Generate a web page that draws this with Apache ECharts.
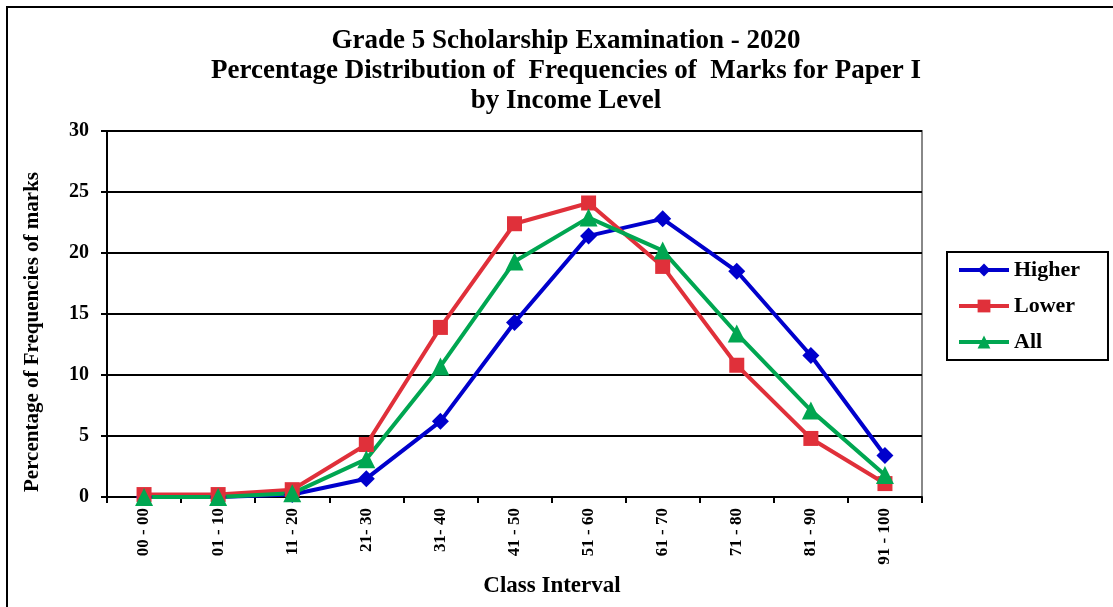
<!DOCTYPE html>
<html lang="en">
<head>
    <meta charset="UTF-8">
    <title>Grade 5 Scholarship Examination - 2020</title>
    <script src="https://cdn.jsdelivr.net/npm/echarts@6/dist/echarts.min.js"></script>
    <style type="text/css">
        html, body { margin: 0; padding: 0; background: #fff; }
        #box { width: 1113px; height: 607px; }
    </style>
</head>
<body>
    <div id="box"></div>
</body>
</html>
<script>
    // class intervals on the x axis
    var classes = ["00 - 00", "01 - 10", "11 - 20", "21- 30", "31- 40", "41 - 50",
                   "51 - 60", "61 - 70", "71 - 80", "81 - 90", "91 - 100"];
    // percentages
    var higher = [0.0, 0.0, 0.2, 1.5, 6.2, 14.3, 21.4, 22.8, 18.5, 11.6, 3.4];
    var lower  = [0.2, 0.2, 0.6, 4.3, 13.9, 22.4, 24.1, 18.9, 10.8, 4.8, 1.1];
    var all    = [0.0, 0.0, 0.3, 3.1, 10.7, 19.3, 22.9, 20.2, 13.4, 7.1, 1.8];
    var yTicks = [0, 5, 10, 15, 20, 25, 30];

    var serif = "'Liberation Serif', 'Times New Roman', serif";
    var mychart = echarts.init(document.getElementById("box"));

    function line(name, data, color, symbol, size) {
        return {
            name: name,
            type: "line",
            data: data,
            symbol: symbol,
            symbolSize: size,
            itemStyle: { color: color },
            lineStyle: { color: color, width: 4 },
            z: 3
        };
    }

    mychart.setOption({
        animation: false,
        backgroundColor: "#fff",
        title: {
            text: "Grade 5 Scholarship Examination - 2020\nPercentage Distribution of  Frequencies of  Marks for Paper I\nby Income Level",
            left: 561,
            textAlign: "center",
            top: 21,
            textStyle: {
                fontFamily: serif, fontWeight: "bold", fontSize: 27,
                lineHeight: 30, color: "#000"
            }
        },
        legend: {
            orient: "vertical",
            left: 947,
            top: 252,
            padding: [7, 28, 7, 10],
            itemGap: 14,
            itemWidth: 50,
            itemHeight: 16,
            borderColor: "#000",
            borderWidth: 2,
            lineStyle: { width: 4 },
            textStyle: { fontFamily: serif, fontWeight: "bold", fontSize: 22, color: "#000" },
            data: ["Higher", "Lower", "All"]
        },
        grid: { left: 107, right: 191, top: 131, bottom: 110 },
        xAxis: {
            type: "category",
            data: classes,
            axisLine: { lineStyle: { color: "#000", width: 2 } },
            axisTick: { show: true, length: 6, lineStyle: { color: "#000", width: 2 } },
            axisLabel: {
                rotate: 90, margin: 11,
                fontFamily: serif, fontWeight: "bold", fontSize: 17, color: "#000"
            },
            splitLine: { show: false }
        },
        yAxis: {
            type: "value",
            min: yTicks[0],
            max: yTicks[yTicks.length - 1],
            interval: 5,
            axisLine: { show: true, lineStyle: { color: "#000", width: 2 } },
            axisTick: { show: true, length: 6, lineStyle: { color: "#000", width: 2 } },
            axisLabel: { margin: 18, fontFamily: serif, fontWeight: "bold", fontSize: 20, color: "#000" },
            splitLine: { lineStyle: { color: "#000", width: 2 } }
        },
        graphic: [
            // outer chart frame (left and top edges only are visible)
            { type: "polyline", shape: { points: [[7, 620], [7, 7], [1120, 7]] }, style: { fill: null, stroke: "#000", lineWidth: 2 }, silent: true },
            // grey right and top edge of plot area
            { type: "polyline", shape: { points: [[107, 131], [922, 131], [922, 497]] }, style: { fill: null, stroke: "#888", lineWidth: 2 }, silent: true },
            // axis titles
            {
                type: "text", x: 33, y: 332, rotation: Math.PI / 2, silent: true,
                style: {
                    text: "Percentage of Frequencies of marks", align: "center", verticalAlign: "middle",
                    font: "bold 21px " + serif, fill: "#000"
                }
            },
            {
                type: "text", x: 552, y: 586, silent: true,
                style: {
                    text: "Class Interval", align: "center", verticalAlign: "middle",
                    font: "bold 23px " + serif, fill: "#000"
                }
            }
        ],
        series: [
            line("Higher", higher, "#0000cc", "diamond", 17),
            line("Lower", lower, "#e0303a", "rect", 15),
            line("All", all, "#00a651", "triangle", 18)
        ]
    });
</script>
